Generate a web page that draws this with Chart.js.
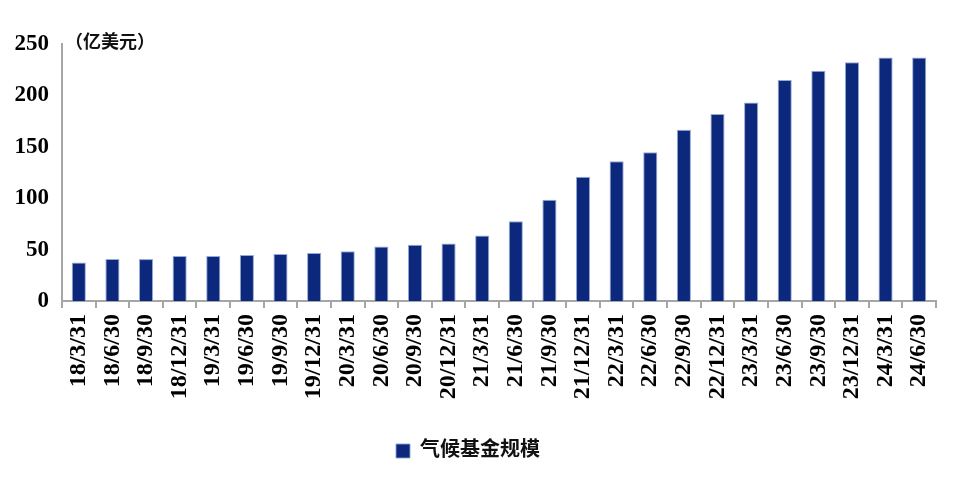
<!DOCTYPE html>
<html><head><meta charset="utf-8">
<script src="https://cdn.jsdelivr.net/npm/chart.js@4"></script>
<style>html,body{margin:0;padding:0;background:#fff}#wrap{width:960px;height:482px}</style>
</head><body><div id="wrap"><canvas id="c" width="960" height="482"></canvas></div>
<script>
const categories = ['18/3/31','18/6/30','18/9/30','18/12/31','19/3/31','19/6/30','19/9/30','19/12/31','20/3/31','20/6/30','20/9/30','20/12/31','21/3/31','21/6/30','21/9/30','21/12/31','22/3/31','22/6/30','22/9/30','22/12/31','23/3/31','23/6/30','23/9/30','23/12/31','24/3/31','24/6/30'];
const fundSize = [37.5,40.8,40.8,43.8,43.8,44.8,45.8,46.7,48.3,52.9,54.6,55.9,63.7,77.5,98.6,120.9,135.9,144.7,166.7,182,193,215,224,232.3,236.9,236.9];
const seriesName = '气候基金规模';
const unitLabel = '（亿美元）';
const yTicks = {min:0, max:250, step:50};

const serif = '"Liberation Serif", "DejaVu Serif", serif';
const cjk = '"Liberation Serif", "Noto Sans CJK SC", serif';

const unitPlugin = {
  id:'unit',
  afterDraw(chart){
    const ctx = chart.ctx, a = chart.chartArea;
    ctx.save();
    ctx.font = 'bold 18px ' + cjk;
    ctx.fillStyle = '#111';
    ctx.textBaseline = 'middle';
    ctx.textAlign = 'left';
    ctx.fillText(unitLabel, a.left + 3, a.top - 1);
    ctx.restore();
  }
};

new Chart(document.getElementById('c'), {
  type:'bar',
  data:{labels:categories, datasets:[{label:seriesName, data:fundSize, backgroundColor:'#0b287c', borderColor:'rgba(140,160,210,0.9)', borderWidth:1, barPercentage:0.84, categoryPercentage:0.5}]},
  options:{
    responsive:false, animation:false,
    layout:{padding:{left:0, right:24, top:44, bottom:11}},
    plugins:{
      legend:{position:'bottom', labels:{font:{family:cjk, size:20, weight:'bold'}, color:'#111', boxWidth:14, boxHeight:14, padding:10}},
      tooltip:{enabled:false}
    },
    scales:{
      x:{
        grid:{display:true, offset:true, drawOnChartArea:false, drawTicks:true, tickLength:7, color:'#a6a6a6', lineWidth:2},
        border:{display:true, color:'#a6a6a6', width:2},
        ticks:{minRotation:90, maxRotation:90, autoSkip:false, padding:6, color:'#000', font:{family:serif, size:24, weight:'bold'}},
        afterFit(s){ s.height = 130; }
      },
      y:{
        min:yTicks.min, max:yTicks.max,
        grid:{display:false, drawTicks:false},
        border:{display:true, color:'#a6a6a6', width:2},
        ticks:{stepSize:yTicks.step, padding:13, color:'#000', font:{family:serif, size:23, weight:'bold'}},
        afterFit(s){ s.width = 62; }
      }
    }
  },
  plugins:[unitPlugin]
});
</script></body></html>
